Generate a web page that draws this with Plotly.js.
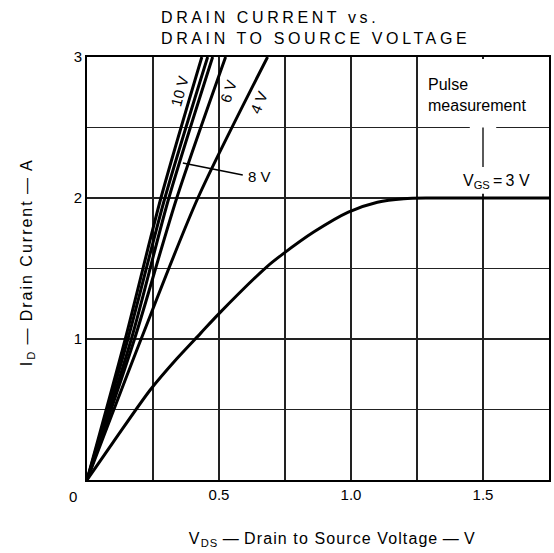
<!DOCTYPE html>
<html>
<head>
<meta charset="utf-8">
<script src="https://cdn.plot.ly/plotly-3.0.1.min.js"></script>
<style>
body { margin: 0; background: #fff; }
#chart .gtitle { letter-spacing: 3.6px; }
#chart .annotation[data-index="0"] text { letter-spacing: 1.1px; }
#chart .annotation[data-index="1"] text { letter-spacing: 2px; }
</style>
</head>
<body>
<div id="chart" style="width:554px;height:553px;"></div>
<script>
// Drain current (A) levels read at points along each steep curve
const idSteep = [0, 1, 2, 3];
// V_DS (V) at those current levels for each gate voltage
const vds10V = [0, 0.145, 0.28, 0.435];
const vds10Vb = [0, 0.155, 0.295, 0.457];
const vds8V = [0, 0.168, 0.31, 0.476];
const vds6V = [0, 0.18, 0.34, 0.525];
const vds4V = [0, 0.205, 0.42, 0.684];
// VGS = 3 V curve
const vds3V = [0, 0.1, 0.24, 0.34, 0.43, 0.5, 0.68, 0.74, 0.86, 0.99, 1.1, 1.2, 1.3, 1.5, 1.75];
const id3V = [0, 0.27, 0.64, 0.86, 1.04, 1.18, 1.51, 1.60, 1.76, 1.90, 1.97, 1.995, 2.0, 2.0, 2.0];
// tick labels
const xTickVals = [0.5, 1.0, 1.5];
const xTickText = ['0.5', '1.0', '1.5'];
const yTickVals = [1, 2, 3];
const yTickText = ['1', '2', '3'];

const FONT = 'Liberation Sans, Arial, Helvetica, sans-serif';
const GRID = '#222';
const lineStyle = {color: '#000', width: 3};

function tr(x, y, name) {
  return {x: x, y: y, name: name, type: 'scatter', mode: 'lines',
    line: Object.assign({}, lineStyle, {shape: 'spline', smoothing: 0.8}),
    hoverinfo: 'skip'};
}

const data = [
  tr(vds10V, idSteep, '10 V'),
  tr(vds10Vb, idSteep, '10 V b'),
  tr(vds8V, idSteep, '8 V'),
  tr(vds6V, idSteep, '6 V'),
  tr(vds4V, idSteep, '4 V'),
  tr(vds3V, id3V, '3 V')
];

const layout = {
  width: 554, height: 553,
  margin: {l: 87, r: 5, t: 57, b: 73},
  paper_bgcolor: '#fff', plot_bgcolor: '#fff',
  showlegend: false,
  font: {family: FONT, size: 16, color: '#000'},
  title: {
    text: 'DRAIN CURRENT vs.<br>DRAIN TO SOURCE VOLTAGE',
    font: {family: FONT, size: 16, color: '#000'},
    xref: 'container', yref: 'container',
    x: 161 / 554, xanchor: 'left',
    y: 1 - 23 / 553, yanchor: 'top'
  },
  xaxis: {
    range: [0, 1.75], tickvals: xTickVals, ticktext: xTickText,
    showgrid: true, gridcolor: GRID, gridwidth: 1.5,
    minor: {dtick: 0.25, tick0: 0, showgrid: true, gridcolor: GRID, gridwidth: 1.5},
    zeroline: false, showline: true, mirror: true, linecolor: '#000', linewidth: 2,
    ticks: '', tickfont: {family: FONT, size: 15}
  },
  yaxis: {
    range: [0, 3], tickvals: yTickVals, ticktext: yTickText,
    showgrid: true, gridcolor: GRID, gridwidth: 1.5,
    minor: {dtick: 0.5, tick0: 0, showgrid: true, gridcolor: GRID, gridwidth: 1.5},
    zeroline: false, showline: true, mirror: true, linecolor: '#000', linewidth: 2,
    ticks: '', tickfont: {family: FONT, size: 15}
  },
  shapes: [
    {type: 'rect', xref: 'x', yref: 'y', x0: 1.45, x1: 1.55, y0: 2.03, y1: 2.985,
      fillcolor: '#fff', line: {width: 0}, layer: 'between'},
    {type: 'line', xref: 'x', yref: 'y', x0: 1.5, x1: 1.5, y0: 2.5, y1: 2.22,
      line: {color: '#000', width: 1.3}},
    {type: 'line', xref: 'x', yref: 'y', x0: 0.363, x1: 0.59, y0: 2.248, y1: 2.163,
      line: {color: '#000', width: 1.5}}
  ],
  annotations: [
    {text: 'V<sub>DS</sub>\u2009\u2014\u2009Drain to Source Voltage\u2009\u2014\u2009V',
      xref: 'paper', yref: 'paper', x: 0.531, y: -0.1418, xanchor: 'center', yanchor: 'middle',
      showarrow: false, font: {family: FONT, size: 16}},
    {text: 'I<sub>D</sub>\u2009\u2014\u2009Drain Current\u2009\u2014\u2009A',
      xref: 'paper', yref: 'paper', x: -0.1296, y: 0.515, xanchor: 'center', yanchor: 'middle',
      textangle: -90, showarrow: false, font: {family: FONT, size: 16}},
    {text: '0', xref: 'paper', yref: 'paper', x: -0.03, y: -0.04, xanchor: 'center', yanchor: 'middle',
      showarrow: false, font: {family: FONT, size: 15}},
    {text: '10 V', xref: 'x', yref: 'y', x: 0.352, y: 2.76, textangle: -75, showarrow: false,
      font: {family: FONT, size: 15}},
    {text: '6 V', xref: 'x', yref: 'y', x: 0.537, y: 2.76, textangle: -72, showarrow: false,
      font: {family: FONT, size: 15}},
    {text: '4 V', xref: 'x', yref: 'y', x: 0.65, y: 2.68, textangle: -67, showarrow: false,
      font: {family: FONT, size: 15}},
    {text: '8 V', xref: 'x', yref: 'y', x: 0.654, y: 2.155, showarrow: false,
      font: {family: FONT, size: 15}},
    {text: 'Pulse<br>measurement', xref: 'x', yref: 'y', x: 1.285, y: 2.73, xanchor: 'left',
      align: 'left', showarrow: false, font: {family: FONT, size: 16}},
    {text: 'V<sub>GS</sub>\u2009=\u20093 V', xref: 'x', yref: 'y', x: 1.55, y: 2.12,
      showarrow: false, font: {family: FONT, size: 16}}
  ]
};

Plotly.newPlot('chart', data, layout, {staticPlot: true, displayModeBar: false});
</script>
</body>
</html>
